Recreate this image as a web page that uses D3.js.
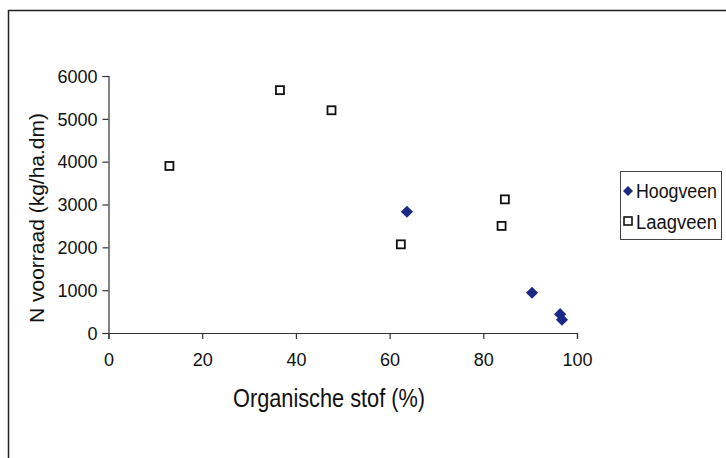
<!DOCTYPE html>
<html>
<head>
<meta charset="utf-8">
<script src="https://cdn.jsdelivr.net/npm/d3@7"></script>
<style>
    body { margin: 0; background: #fff; }
    #vis { display: block; }
</style>
</head>
<body>
<svg id="vis" width="726" height="458"></svg>
<script>
// data
var hoogveenX = [63.7, 90.4, 96.4, 96.8];
var hoogveenY = [2830, 940, 440, 310];

var laagveenX = [13.0, 36.6, 47.6, 62.4, 83.9, 84.6];
var laagveenY = [3900, 5670, 5200, 2070, 2500, 3120];

var xTicks = [0, 20, 40, 60, 80, 100];
var yTicks = [0, 1000, 2000, 3000, 4000, 5000, 6000];

var seriesNames = ['Hoogveen', 'Laagveen'];

var svg = d3.select('#vis');

var x = d3.scaleLinear().domain([0, 100]).range([108.5, 577]);
var y = d3.scaleLinear().domain([0, 6000]).range([333, 76]);

// outer chart frame (runs off the right and bottom edge in the original)
svg.append('rect')
    .attr('x', 8.5)
    .attr('y', 10.5)
    .attr('width', 760)
    .attr('height', 500)
    .attr('fill', 'none')
    .attr('stroke', '#222')
    .attr('stroke-width', 1.5);

var xAxis = svg.append('g')
    .attr('transform', 'translate(0,' + y(0) + ')')
    .call(d3.axisBottom(x).tickValues(xTicks).tickSize(6).tickPadding(14).tickFormat(d3.format('d')));

var yAxis = svg.append('g')
    .attr('transform', 'translate(' + x(0) + ',0)')
    .call(d3.axisLeft(y).tickValues(yTicks).tickSize(6).tickPadding(5).tickFormat(d3.format('d')));

[xAxis, yAxis].forEach(function (a) {
    a.select('.domain').attr('stroke', '#333').attr('stroke-width', 1.2);
    a.selectAll('.tick line').attr('stroke', '#333').attr('stroke-width', 1.2);
    a.selectAll('.tick text')
        .attr('fill', '#111')
        .style('font-family', '"Liberation Sans", Arial, sans-serif')
        .style('font-size', '18px');
});
yAxis.selectAll('.tick text').attr('dy', '0.35em');

// axis titles (original font is condensed, no narrow font here so squeeze with textLength)
svg.append('text')
    .attr('x', 233)
    .attr('y', 407)
    .attr('textLength', 192)
    .attr('lengthAdjust', 'spacingAndGlyphs')
    .style('font-family', '"Liberation Sans", Arial, sans-serif')
    .style('font-size', '26px')
    .attr('fill', '#111')
    .text('Organische stof (%)');

svg.append('text')
    .attr('transform', 'translate(44,218) rotate(-90)')
    .attr('text-anchor', 'middle')
    .style('font-family', '"Liberation Sans", Arial, sans-serif')
    .style('font-size', '21px')
    .attr('fill', '#111')
    .text('N voorraad (kg/ha.dm)');

var diamond = d3.symbol().type(d3.symbolSquare).size(74);
var navy = '#1c2a86';

// Laagveen squares
svg.selectAll('.laag')
    .data(laagveenX)
    .enter()
    .append('rect')
    .attr('class', 'laag')
    .attr('x', function (d) { return x(d) - 4; })
    .attr('y', function (d, i) { return y(laagveenY[i]) - 4; })
    .attr('width', 8)
    .attr('height', 8)
    .attr('fill', '#fff')
    .attr('stroke', '#111')
    .attr('stroke-width', 1.8);

// Hoogveen diamonds
svg.selectAll('.hoog')
    .data(hoogveenX)
    .enter()
    .append('path')
    .attr('class', 'hoog')
    .attr('d', diamond)
    .attr('transform', function (d, i) {
        return 'translate(' + x(d) + ',' + y(hoogveenY[i]) + ') rotate(45)';
    })
    .attr('fill', navy);

// legend
var legend = svg.append('g');

legend.append('rect')
    .attr('x', 620.5)
    .attr('y', 171.5)
    .attr('width', 101)
    .attr('height', 68)
    .attr('fill', '#fff')
    .attr('stroke', '#444')
    .attr('stroke-width', 1);

legend.append('path')
    .attr('d', d3.symbol().type(d3.symbolSquare).size(50))
    .attr('transform', 'translate(628,191) rotate(45)')
    .attr('fill', navy);

legend.append('rect')
    .attr('x', 624)
    .attr('y', 217)
    .attr('width', 8)
    .attr('height', 8)
    .attr('fill', '#fff')
    .attr('stroke', '#111')
    .attr('stroke-width', 1.6);

legend.selectAll('.legend-label')
    .data(seriesNames)
    .enter()
    .append('text')
    .attr('x', 636)
    .attr('y', function (d, i) { return 198 + i * 31; })
    .attr('textLength', 81)
    .attr('lengthAdjust', 'spacingAndGlyphs')
    .style('font-family', '"Liberation Sans", Arial, sans-serif')
    .style('font-size', '20px')
    .attr('fill', '#111')
    .text(function (d) { return d; });
</script>
</body>
</html>
